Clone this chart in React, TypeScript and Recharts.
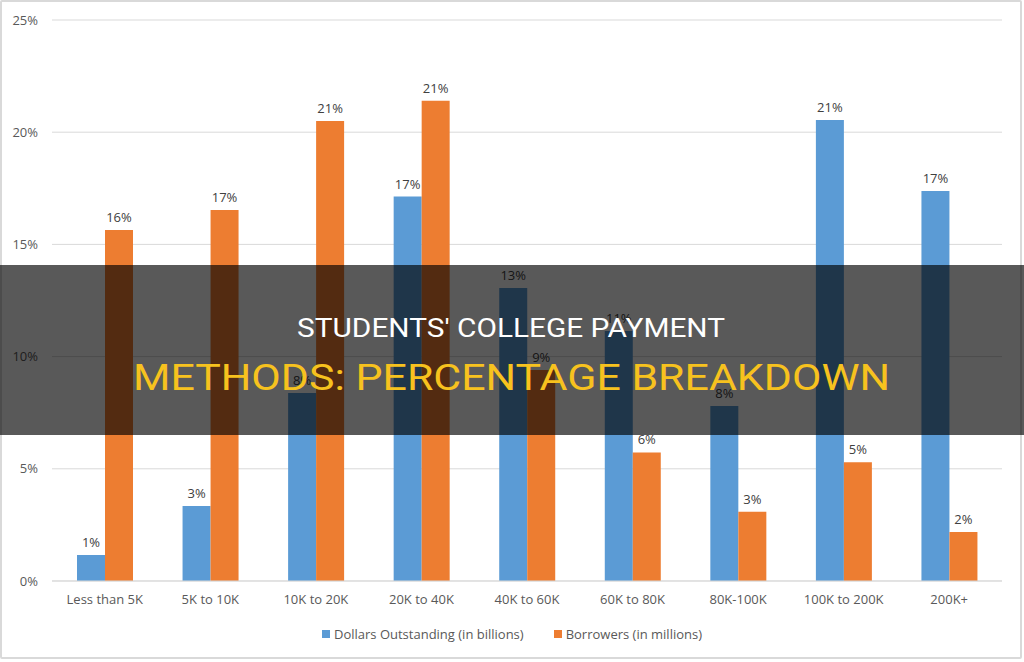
import React from 'react';
import { BarChart, Bar, XAxis, YAxis, CartesianGrid, LabelList } from 'recharts';

// debt bands and the share (%) of dollars / borrowers in each
const categories = ['Less than 5K', '5K to 10K', '10K to 20K', '20K to 40K', '40K to 60K', '60K to 80K', '80K-100K', '100K to 200K', '200K+'];
const dollarsOutstanding = [1.16, 3.34, 8.38, 17.13, 13.06, 11.14, 7.8, 20.54, 17.38];
const borrowers = [15.64, 16.53, 20.5, 21.4, 9.4, 5.73, 3.09, 5.29, 2.18];
const yTicks = [0, 5, 10, 15, 20, 25];
const seriesNames = ['Dollars Outstanding (in billions)', 'Borrowers (in millions)'];

const BLUE = '#5B9BD5';
const ORANGE = '#ED7D31';
const FONT = '"Open Sans", "Liberation Sans", sans-serif';

const data = categories.map((name, i) => ({
  name,
  dollars: dollarsOutstanding[i],
  borrowers: borrowers[i],
}));

const pct = (v: any) => `${Math.round(Number(v))}%`;

const App: React.FC = () => {
  const legendItems = [
    { label: seriesNames[0], color: BLUE },
    { label: seriesNames[1], color: ORANGE },
  ];
  return (
    <div style={{ position: 'absolute', left: 0, top: 0, width: 1024, height: 662, background: '#fff', overflow: 'hidden' }}>
      <div style={{ position: 'absolute', left: 0, top: 0, width: 1018, height: 655, border: '2px solid #d9d9d9', borderRadius: 2 }} />
      <BarChart
        width={1024}
        height={662}
        data={data}
        margin={{ top: 20, right: 22, left: 0, bottom: 51 }}
        barGap={0}
        barSize={28}
      >
        <CartesianGrid vertical={false} stroke="#d9d9d9" />
        <XAxis
          dataKey="name"
          axisLine={{ stroke: '#d9d9d9' }}
          tickLine={false}
          tickMargin={8}
          tick={{ fill: '#595959', fontSize: 13, fontFamily: FONT }}
        />
        <YAxis
          width={52}
          domain={[0, 25]}
          ticks={yTicks}
          tickFormatter={(v) => `${v}%`}
          axisLine={false}
          tickLine={false}
          tickMargin={8}
          tick={{ fill: '#595959', fontSize: 13, fontFamily: FONT }}
        />
        <Bar dataKey="dollars" name={seriesNames[0]} fill={BLUE} isAnimationActive={false}>
          <LabelList dataKey="dollars" position="top" offset={8} formatter={pct} fill="#404040" fontSize={13} fontFamily={FONT} />
        </Bar>
        <Bar dataKey="borrowers" name={seriesNames[1]} fill={ORANGE} isAnimationActive={false}>
          <LabelList dataKey="borrowers" position="top" offset={8} formatter={pct} fill="#404040" fontSize={13} fontFamily={FONT} />
        </Bar>
      </BarChart>
      {/* legend, Excel style */}
      <div style={{ position: 'absolute', top: 625, left: 0, width: 1024, display: 'flex', justifyContent: 'center', gap: 30, fontFamily: FONT, fontSize: 13, color: '#595959' }}>
        {legendItems.map((it) => (
          <div key={it.label} style={{ display: 'flex', alignItems: 'center' }}>
            <span style={{ width: 8, height: 8, background: it.color, marginRight: 4, display: 'inline-block' }} />
            <span>{it.label}</span>
          </div>
        ))}
      </div>
      {/* dark title band laid over the chart */}
      <svg width={1024} height={662} style={{ position: 'absolute', left: 0, top: 0, pointerEvents: 'none' }}>
        <rect x={0} y={265} width={1024} height={170} fill="rgba(0,0,0,0.65)" />
        <text x={297} y={337} textLength={428} lengthAdjust="spacingAndGlyphs" fill="#ffffff" fontSize={25} fontFamily="Roboto, sans-serif">
          STUDENTS' COLLEGE PAYMENT
        </text>
        <text x={133} y={390} textLength={757} lengthAdjust="spacingAndGlyphs" fill="#F7C21E" fontSize={36.5} fontFamily="Roboto, sans-serif">
          METHODS: PERCENTAGE BREAKDOWN
        </text>
      </svg>
    </div>
  );
};

export default App;
